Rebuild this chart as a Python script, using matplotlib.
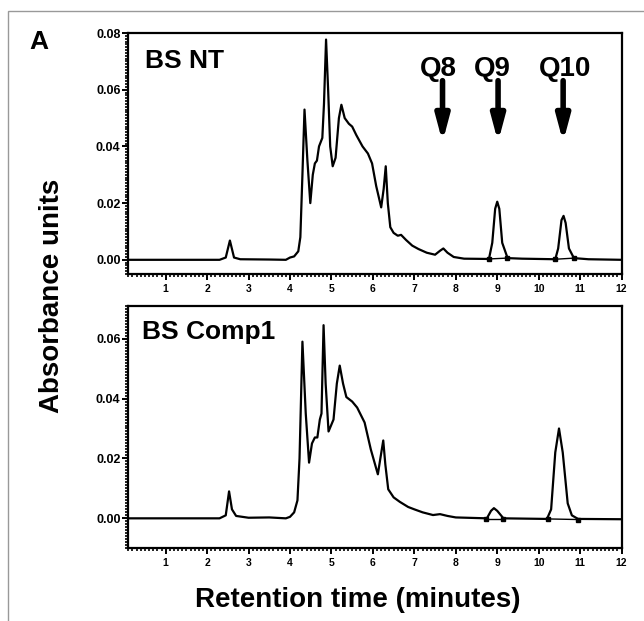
import matplotlib
matplotlib.use("Agg")
from matplotlib import pyplot as plt
from matplotlib.ticker import MultipleLocator, FormatStrFormatter
from matplotlib.patches import Rectangle

plt.rcParams['font.family'] = ['Liberation Sans', 'DejaVu Sans']
plt.rcParams['font.weight'] = 'bold'

# BS NT trace (minutes, absorbance)
nt_time = [0.1, 2.3, 2.45, 2.55, 2.65, 2.8, 3.5, 3.9, 4.0, 4.1, 4.2, 4.25, 4.3,
           4.35, 4.42, 4.49, 4.55, 4.6, 4.65, 4.7, 4.78, 4.82, 4.87, 4.92, 4.97,
           5.03, 5.1, 5.18, 5.24, 5.32, 5.42, 5.5, 5.6, 5.75, 5.88, 5.98, 6.08,
           6.2, 6.26, 6.31, 6.36, 6.42, 6.5, 6.6, 6.68, 6.8, 6.95, 7.1, 7.3, 7.5,
           7.62, 7.7, 7.8, 7.95, 8.2, 8.8, 8.88, 8.95, 9.0, 9.05, 9.12, 9.25, 9.6,
           10.4, 10.47, 10.55, 10.6, 10.65, 10.73, 10.85, 11.2, 12.0]
nt_abs = [0.0, 0.0, 0.0008, 0.0068, 0.0008, 0.0002, 0.0001, 0.0, 0.0008, 0.0012,
          0.003, 0.008, 0.03, 0.053, 0.035, 0.020, 0.030, 0.034, 0.035, 0.040,
          0.043, 0.055, 0.0777, 0.060, 0.040, 0.033, 0.036, 0.050, 0.0547, 0.050,
          0.048, 0.047, 0.044, 0.040, 0.0375, 0.034, 0.026, 0.0185, 0.025, 0.033,
          0.020, 0.0115, 0.0095, 0.0085, 0.0088, 0.007, 0.005, 0.0038, 0.0025,
          0.0018, 0.0032, 0.0040, 0.0025, 0.0010, 0.0004, 0.0003, 0.006, 0.018,
          0.0205, 0.018, 0.006, 0.0006, 0.0004, 0.0002, 0.004, 0.014, 0.0155,
          0.013, 0.004, 0.0006, 0.0002, 0.0]
nt_marks_t = [8.8, 9.23, 10.4, 10.86]
nt_marks_a = [0.0003, 0.0006, 0.0002, 0.0006]

# BS Comp1 trace
c1_time = [0.1, 2.3, 2.45, 2.53, 2.6, 2.7, 3.0, 3.5, 3.9, 4.0, 4.1, 4.18, 4.23,
           4.3, 4.38, 4.46, 4.53, 4.6, 4.66, 4.72, 4.76, 4.81, 4.86, 4.93, 5.05,
           5.13, 5.2, 5.28, 5.36, 5.5, 5.62, 5.8, 5.95, 6.12, 6.18, 6.25, 6.3,
           6.37, 6.5, 6.65, 6.85, 7.0, 7.2, 7.45, 7.62, 7.8, 8.0, 8.75, 8.85,
           8.92, 9.0, 9.15, 10.2, 10.3, 10.4, 10.49, 10.58, 10.7, 10.8, 10.95, 12.0]
c1_abs = [0.0, 0.0, 0.001, 0.009, 0.003, 0.0008, 0.0002, 0.0003, 0.0, 0.0005,
          0.002, 0.006, 0.02, 0.059, 0.035, 0.0186, 0.025, 0.027, 0.027, 0.033,
          0.035, 0.0645, 0.045, 0.029, 0.033, 0.045, 0.051, 0.045, 0.0405, 0.039,
          0.037, 0.032, 0.023, 0.0147, 0.020, 0.026, 0.018, 0.0097, 0.007, 0.0055,
          0.0038, 0.003, 0.002, 0.0011, 0.0014, 0.0008, 0.0003, 0.0, 0.0025,
          0.0034, 0.0025, 0.0, -0.0002, 0.003, 0.022, 0.030, 0.022, 0.005, 0.001,
          -0.0002, -0.0003]
c1_marks_t = [8.72, 9.15, 10.22, 10.95]
c1_marks_a = [-0.0002, -0.0002, -0.0002, -0.0004]

q_labels = ['Q8', 'Q9', 'Q10']
q_label_x = [7.57, 8.88, 10.63]
q_arrow_x = [7.68, 9.02, 10.59]


def style_axes(ax, ylo, yhi):
    ax.set_xlim(0.08, 12)
    ax.set_ylim(ylo, yhi)
    ax.set_xticks(range(1, 13))
    ax.xaxis.set_minor_locator(MultipleLocator(0.1))
    ax.yaxis.set_major_locator(MultipleLocator(0.02))
    ax.yaxis.set_minor_locator(MultipleLocator(0.001))
    ax.yaxis.set_major_formatter(FormatStrFormatter('%.2f'))
    for s in ax.spines.values():
        s.set_linewidth(1.6)
    ax.tick_params(which='major', length=4, width=1.4, labelsize=7.5, pad=3)
    ax.tick_params(axis='y', which='major', labelsize=9, pad=1)
    ax.tick_params(which='minor', length=2.5, width=1.2)
    for lab in ax.get_xticklabels() + ax.get_yticklabels():
        lab.set_fontweight('bold')


fig = plt.figure(figsize=(6.44, 6.21), dpi=100)
fig.patches.append(Rectangle((0.013, -0.1), 1.2, 1.082, transform=fig.transFigure,
                             fill=False, edgecolor='#999999', linewidth=1.0))

ax1 = fig.add_axes([0.198, 0.5588, 0.7672, 0.388])
ax1.plot(nt_time, nt_abs, color='black', linewidth=1.6)
ax1.plot(nt_marks_t[:2], nt_marks_a[:2], color='black', linewidth=1.0, marker='s', markersize=2.5)
ax1.plot(nt_marks_t[2:], nt_marks_a[2:], color='black', linewidth=1.0, marker='s', markersize=2.5)
style_axes(ax1, -0.005, 0.08)
ax1.text(0.035, 0.935, 'BS NT', transform=ax1.transAxes, fontsize=19,
         fontweight='bold', va='top')
for lab, lx, t in zip(q_labels, q_label_x, q_arrow_x):
    ax1.text(lx, 0.0672, lab, ha='center', va='center', fontsize=20, fontweight='bold')
    ax1.annotate('', xy=(t, 0.0415), xytext=(t, 0.0632),
                 arrowprops=dict(arrowstyle='-|>,head_width=0.4,head_length=1.5',
                                 color='black', linewidth=4.0, shrinkA=0, shrinkB=0))

ax2 = fig.add_axes([0.198, 0.1171, 0.7672, 0.3906])
ax2.plot(c1_time, c1_abs, color='black', linewidth=1.6)
ax2.plot(c1_marks_t[:2], c1_marks_a[:2], color='black', linewidth=1.0, marker='s', markersize=2.5)
ax2.plot(c1_marks_t[2:], c1_marks_a[2:], color='black', linewidth=1.0, marker='s', markersize=2.5)
style_axes(ax2, -0.01, 0.071)
ax2.text(0.03, 0.94, 'BS Comp1', transform=ax2.transAxes, fontsize=19,
         fontweight='bold', va='top')

fig.text(0.060, 0.932, 'A', fontsize=19, fontweight='bold', ha='center', va='center')
fig.text(0.081, 0.523, 'Absorbance units', rotation=90, fontsize=20,
         fontweight='bold', ha='center', va='center')
fig.text(0.555, 0.034, 'Retention time (minutes)', fontsize=20,
         fontweight='bold', ha='center', va='center')

fig.savefig('out.png', dpi=100)
